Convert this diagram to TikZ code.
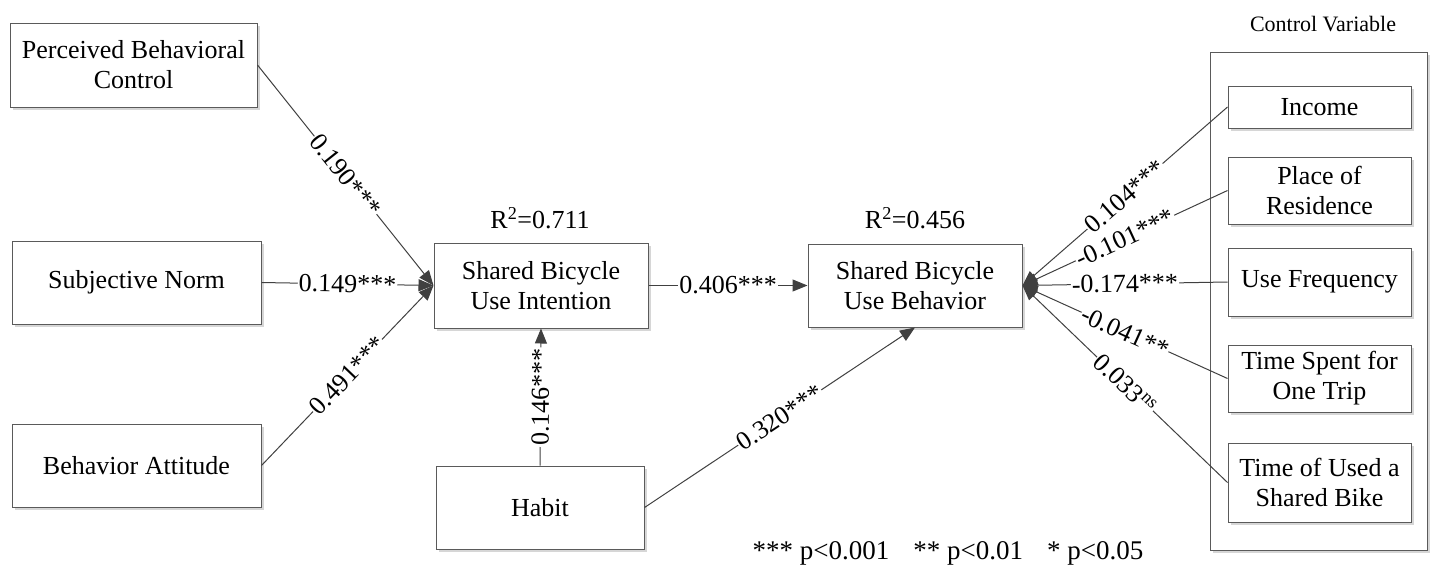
\documentclass[tikz,border=0pt]{standalone}
\usepackage{fontspec}
\setmainfont{Liberation Serif}
\usetikzlibrary{arrows.meta}
\definecolor{ln}{HTML}{404040}
\definecolor{bd}{HTML}{5A5A5A}
\definecolor{shd}{HTML}{D6D6D6}
\begin{document}
\begin{tikzpicture}[x=1pt,y=-1pt,
  box/.style={draw=bd, line width=1pt, fill=white, align=center,
    font=\rmfamily\fontsize{26}{30}\selectfont, inner sep=0pt,
    preaction={draw=none, fill=shd, transform canvas={xshift=3pt,yshift=-3pt}}},
  lbl/.style={fill=white, inner sep=1pt, font=\rmfamily\fontsize{26}{30}\selectfont, sloped},
  conn/.style={draw=ln, line width=1pt, -{Triangle[length=15pt,width=12pt]}},
  plain/.style={font=\rmfamily\fontsize{26}{30}\selectfont, inner sep=0pt}]
\useasboundingbox (0,0) rectangle (1434,568);
% left column
\node[box, minimum width=247pt, minimum height=84pt] (pbc) at (133.5,65) {Perceived Behavioral\\Control};
\node[box, minimum width=249pt, minimum height=83pt] (sn) at (136.5,282.5) {Subjective Norm};
\node[box, minimum width=249pt, minimum height=83pt] (ba) at (136.5,465.5) {Behavior Attitude};
% middle
\node[box, minimum width=214pt, minimum height=85pt] (int) at (541,285.5) {Shared Bicycle\\Use Intention};
\node[box, minimum width=214pt, minimum height=83pt] (beh) at (915,285.5) {Shared Bicycle\\Use Behavior};
\node[box, minimum width=208pt, minimum height=83pt] (hab) at (540,507.5) {Habit};
\node[plain] (r1) at (540,218) {R\textsuperscript{2}=0.711};
\node[plain] (r2) at (915,218) {R\textsuperscript{2}=0.456};
% control variables
\node[plain, font=\rmfamily\fontsize{22}{26}\selectfont] (ctitle) at (1323,24) {Control Variable};
\node[box, minimum width=217pt, minimum height=498pt] (ctrl) at (1318.5,301) {};
\node[box, minimum width=183pt, minimum height=42pt] (inc) at (1319.5,107) {Income};
\node[box, minimum width=183pt, minimum height=67pt] (pla) at (1319.5,190.5) {Place of\\Residence};
\node[box, minimum width=183pt, minimum height=68pt] (uf) at (1319.5,282) {Use Frequency};
\node[box, minimum width=183pt, minimum height=67pt] (ts) at (1319.5,378.5) {Time Spent for\\One Trip};
\node[box, minimum width=183pt, minimum height=79pt] (tu) at (1319.5,482.5) {Time of Used a\\Shared Bike};
% footnote
\node[plain, font=\rmfamily\fontsize{27}{30}\selectfont] (note) at (948,553) {*** p<0.001\hspace{24pt}** p<0.01\hspace{24pt}* p<0.05};
% connectors
\draw[conn] (pbc.east) -- node[lbl] {0.190***} (int.west);
\draw[conn] (sn.east) -- node[lbl] {0.149***} (int.west);
\draw[conn] (ba.east) -- node[lbl] {0.491***} (int.west);
\draw[conn] (int.east) -- node[lbl] {0.406***} (beh.west);
\draw[conn] (hab.north) -- node[lbl] {0.146***} (int.south);
\draw[conn] (hab.east) -- node[lbl] {0.320***} (beh.south);
\draw[conn] (inc.west) -- node[lbl] {0.104***} (beh.east);
\draw[conn] (pla.west) -- node[lbl] {-0.101***} (beh.east);
\draw[conn] (uf.west) -- node[lbl] {-0.174***} (beh.east);
\draw[conn] (ts.west) -- node[lbl] {-0.041**} (beh.east);
\draw[conn] (tu.west) -- node[lbl] {0.033\textsuperscript{ns}} (beh.east);
\end{tikzpicture}
\end{document}
